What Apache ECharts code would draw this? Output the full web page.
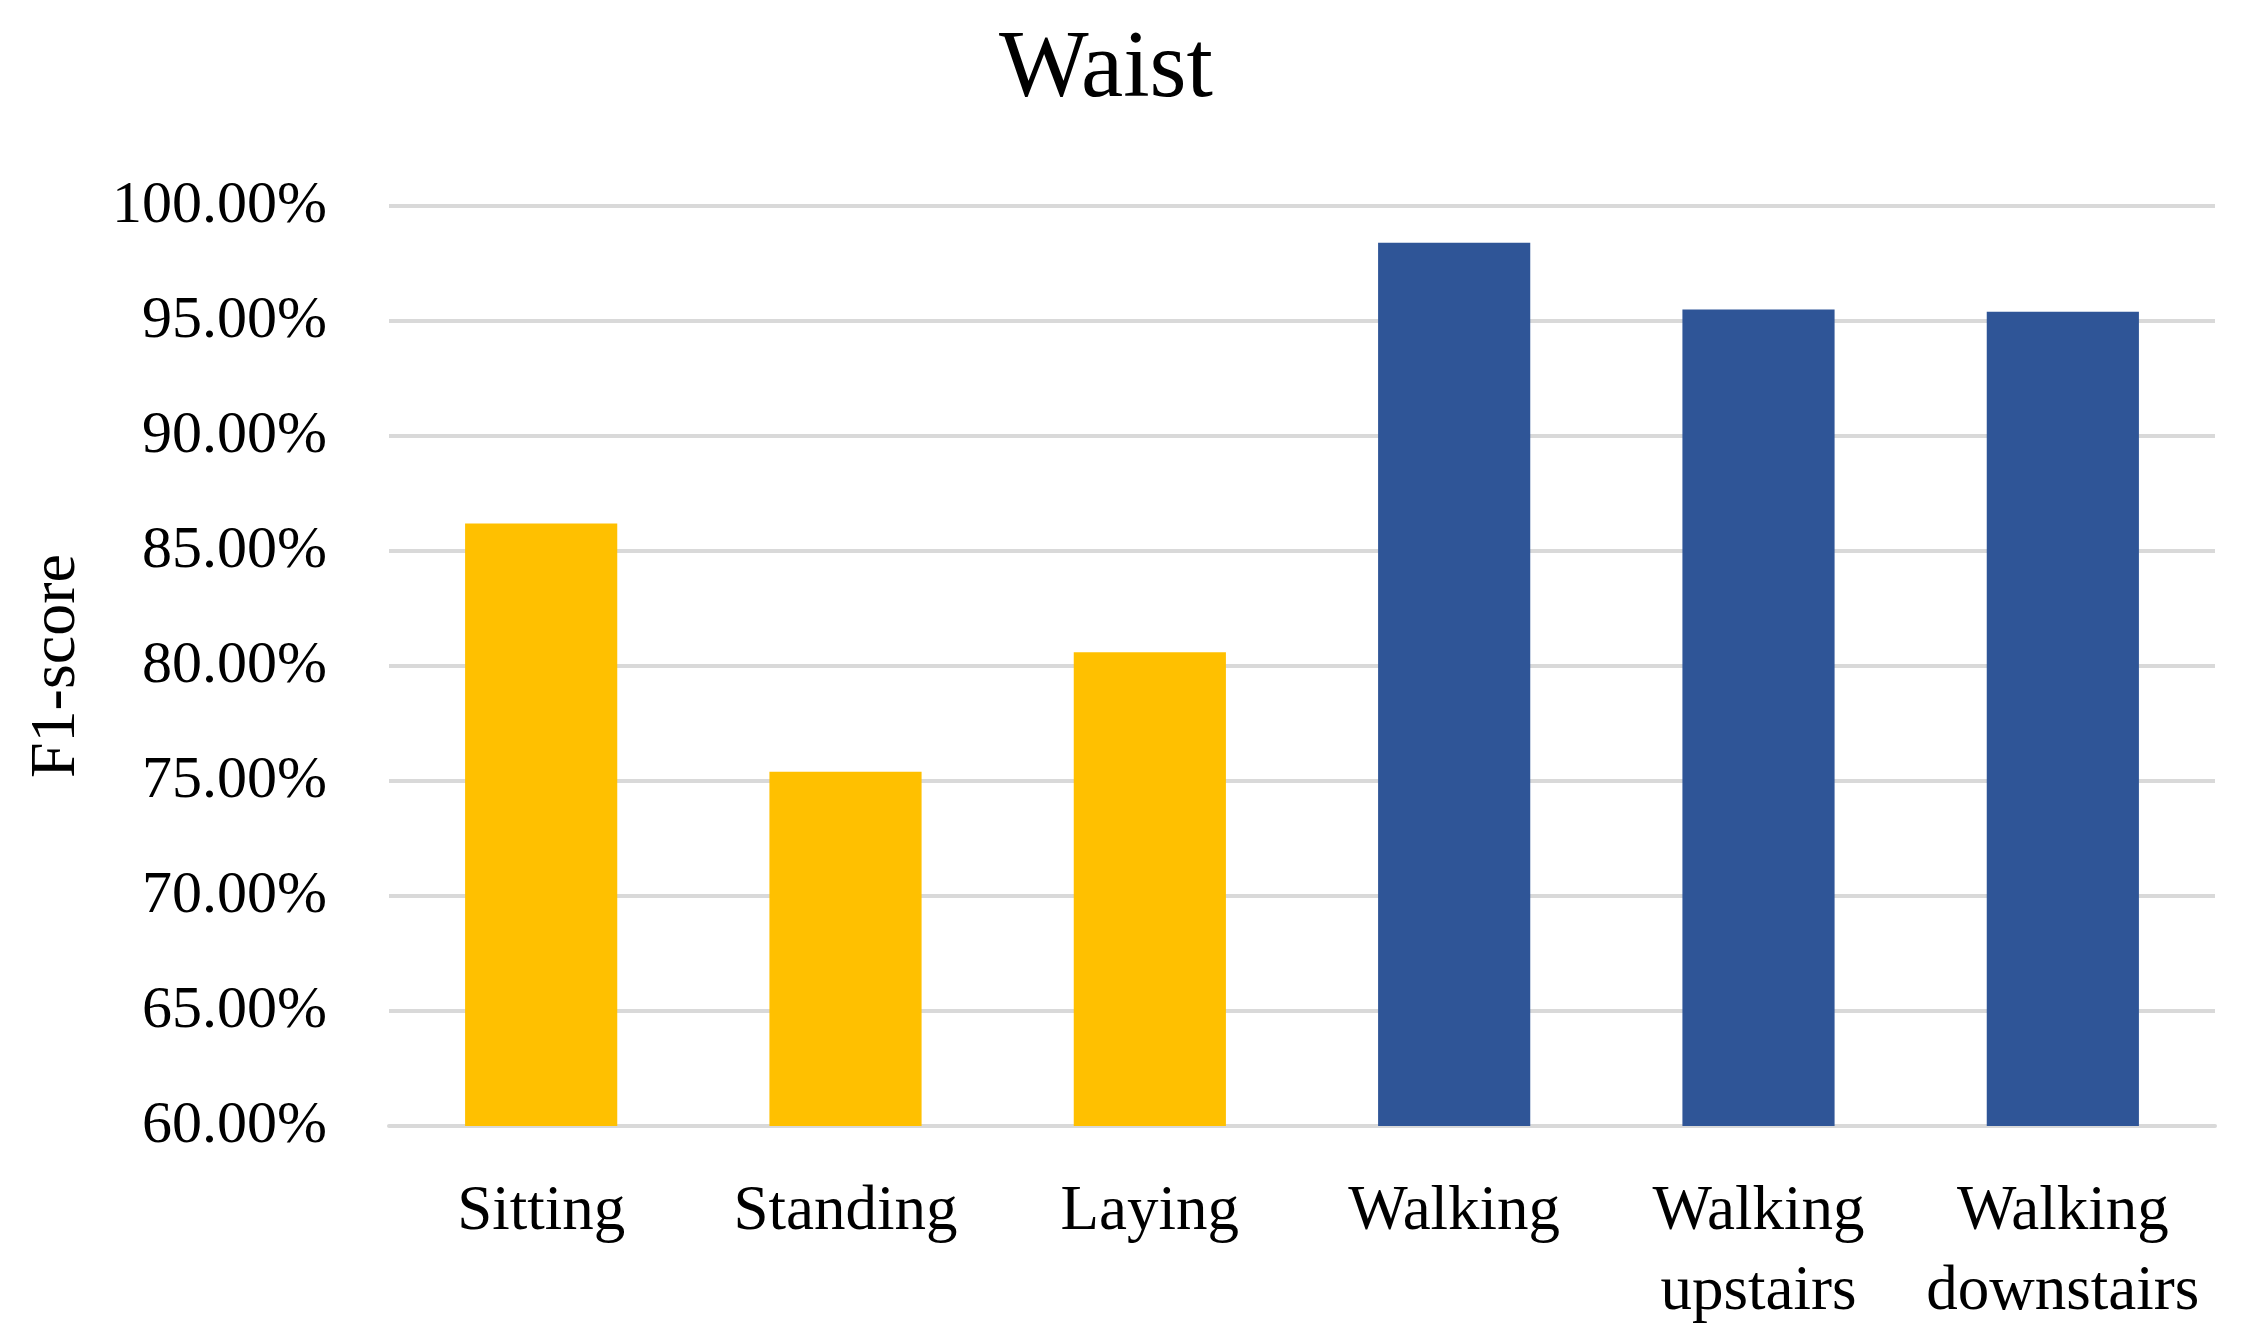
<!DOCTYPE html>
<html>
<head>
<meta charset="utf-8">
<script src="https://cdn.jsdelivr.net/npm/echarts@6/dist/echarts.min.js"></script>
<style>
html,body{margin:0;padding:0;background:#fff;}
#chart{width:2251px;height:1342px;}
</style>
</head>
<body>
<div id="chart"></div>
<script>
const categories = ['Sitting', 'Standing', 'Laying', 'Walking', 'Walking\nupstairs', 'Walking\ndownstairs'];
const f1Scores = [86.2, 75.4, 80.6, 98.4, 95.5, 95.4];
const barColors = ['#FFC000', '#FFC000', '#FFC000', '#2F5597', '#2F5597', '#2F5597'];
const yMin = 60, yMax = 100, yStep = 5;

const fontFamily = '"Liberation Serif", "DejaVu Serif", serif';
const chart = echarts.init(document.getElementById('chart'), null, {renderer: 'canvas'});
chart.setOption({
  backgroundColor: '#ffffff',
  animation: false,
  title: {
    text: 'Waist',
    left: 994,
    top: 19,
    textStyle: {fontFamily: fontFamily, fontSize: 95, fontWeight: 'normal', color: '#000'}
  },
  grid: {left: 389, right: 36, top: 206, bottom: 216, containLabel: false},
  xAxis: {
    type: 'category',
    data: categories,
    axisLine: {show: true, lineStyle: {color: '#d9d9d9', width: 4}},
    axisTick: {show: false},
    axisLabel: {fontFamily: fontFamily, fontSize: 63, color: '#000', margin: 46, lineHeight: 80, interval: 0}
  },
  yAxis: {
    type: 'value',
    min: yMin, max: yMax, interval: yStep,
    name: 'F1-score',
    nameLocation: 'middle',
    nameGap: 300,
    nameTextStyle: {fontFamily: fontFamily, fontSize: 64, color: '#000'},
    axisLine: {show: false},
    axisTick: {show: false},
    splitLine: {lineStyle: {color: '#d9d9d9', width: 4}},
    axisLabel: {fontFamily: fontFamily, fontSize: 60, color: '#000', margin: 62,
      formatter: v => v.toFixed(2) + '%'}
  },
  series: [{
    type: 'bar',
    barWidth: '50%',
    data: f1Scores.map((v, i) => ({value: v, itemStyle: {color: barColors[i]}}))
  }]
});
</script>
</body>
</html>
